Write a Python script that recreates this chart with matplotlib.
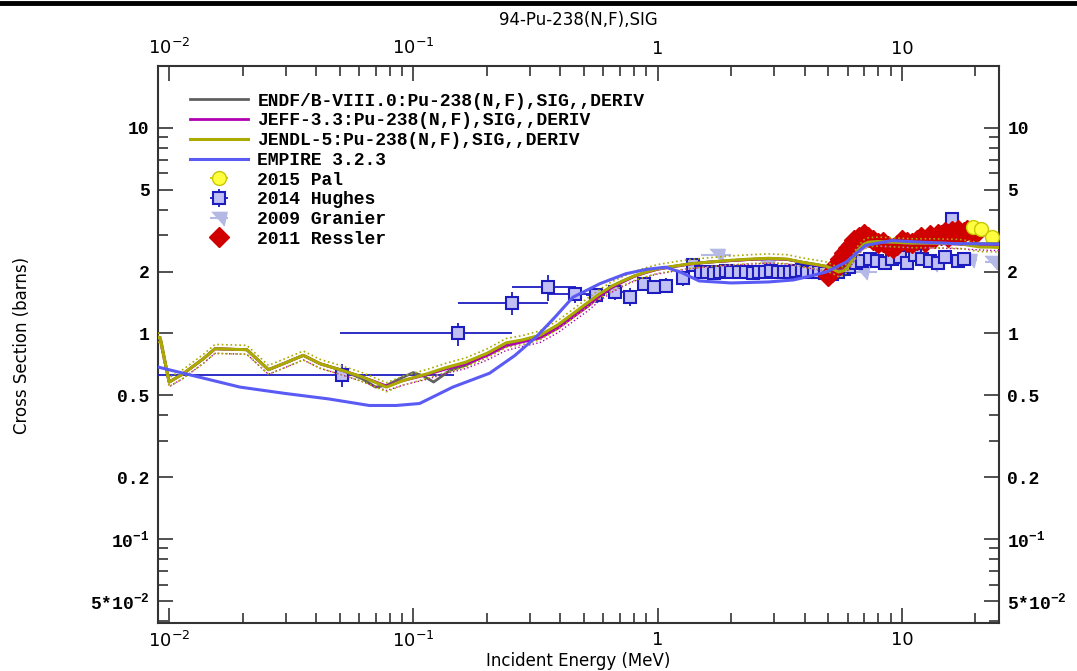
import numpy as np
import matplotlib.pyplot as plt
from matplotlib.ticker import FixedLocator, LogLocator, NullFormatter
from matplotlib.lines import Line2D

plt.rcParams['mathtext.fontset'] = 'custom'
plt.rcParams['mathtext.rm'] = 'Liberation Mono:bold'
plt.rcParams['mathtext.sf'] = 'DejaVu Sans'

# evaluated curves (MeV, barns)
jendl_e = [0.009, 0.0092, 0.0100, 0.0114, 0.0138, 0.0154, 0.0208, 0.0255, 0.0300, 0.0354,
           0.0415, 0.0513, 0.0620, 0.0776, 0.0908, 0.1138, 0.135, 0.164, 0.2, 0.24,
           0.28, 0.33, 0.39, 0.45, 0.52, 0.58, 0.65, 0.72, 0.80, 0.90,
           1.0, 1.16, 1.35, 1.6, 2.0, 2.4, 2.85, 3.4, 3.9, 4.4,
           4.9, 5.2, 5.5, 5.8, 6.0, 6.3, 6.6, 7.0, 7.3, 8.0,
           9.1, 11, 13, 15, 17.2, 19, 21, 23, 25]
jendl_s = [0.96, 0.94, 0.58, 0.636, 0.753, 0.842, 0.833, 0.666, 0.72, 0.782,
           0.712, 0.660, 0.613, 0.548, 0.59, 0.636, 0.68, 0.725, 0.80, 0.90,
           0.93, 0.98, 1.10, 1.247, 1.42, 1.56, 1.70, 1.80, 1.90, 1.99,
           2.06, 2.12, 2.18, 2.22, 2.27, 2.30, 2.32, 2.30, 2.22, 2.17,
           2.12, 2.06, 1.99, 2.02, 2.10, 2.30, 2.53, 2.72, 2.78, 2.80,
           2.78, 2.75, 2.75, 2.74, 2.73, 2.68, 2.63, 2.63, 2.62]
jendl_unc = 0.05

endf_e = [0.009, 0.0092, 0.0100, 0.0114, 0.0138, 0.0154, 0.0208, 0.0255, 0.0300, 0.0354,
          0.0415, 0.0513, 0.062, 0.070, 0.078, 0.09, 0.100, 0.11, 0.121, 0.141,
          0.164, 0.2, 0.24, 0.28, 0.33, 0.39, 0.45, 0.52, 0.58, 0.65,
          0.72, 0.80, 0.90, 1.0, 1.16, 1.35, 1.6, 2.0, 2.4, 2.85,
          3.4, 3.9, 4.4, 4.9, 5.2, 5.5, 5.8, 6.0, 6.3, 6.6,
          7.0, 7.3, 8.0, 9.1, 11, 13, 15, 17.2, 19, 21, 23, 25]
endf_s = [0.96, 0.94, 0.58, 0.636, 0.753, 0.842, 0.833, 0.666, 0.72, 0.782,
          0.712, 0.660, 0.60, 0.548, 0.56, 0.61, 0.645, 0.62, 0.58, 0.66,
          0.70, 0.79, 0.88, 0.92, 0.97, 1.08, 1.22, 1.40, 1.55, 1.69,
          1.80, 1.90, 1.99, 2.06, 2.12, 2.18, 2.22, 2.26, 2.29, 2.31,
          2.29, 2.22, 2.17, 2.12, 2.08, 2.02, 2.05, 2.15, 2.35, 2.56,
          2.72, 2.76, 2.78, 2.77, 2.75, 2.75, 2.74, 2.73, 2.73, 2.73, 2.73, 2.73]

jeff_e = [0.009, 0.0092, 0.0100, 0.0114, 0.0138, 0.0154, 0.0208, 0.0255, 0.0300, 0.0354,
          0.0415, 0.0513, 0.0620, 0.0776, 0.0908, 0.1138, 0.135, 0.164, 0.2, 0.24,
          0.28, 0.33, 0.39, 0.45, 0.52, 0.58, 0.65, 0.72, 0.80, 0.90,
          1.0, 1.16, 1.35, 1.6, 2.0, 2.4, 2.85, 3.4, 3.9, 4.4,
          4.9, 5.2, 5.5, 5.8, 6.0, 6.3, 6.6, 7.0, 7.3, 8.0,
          9.1, 11, 13, 15, 17.2, 19, 21, 23, 25]
jeff_s = [0.96, 0.94, 0.58, 0.636, 0.753, 0.842, 0.833, 0.666, 0.72, 0.782,
          0.712, 0.660, 0.613, 0.555, 0.59, 0.63, 0.67, 0.71, 0.78, 0.87,
          0.91, 0.95, 1.06, 1.20, 1.36, 1.52, 1.67, 1.78, 1.89, 1.98,
          2.05, 2.11, 2.17, 2.22, 2.26, 2.29, 2.31, 2.29, 2.22, 2.16,
          2.11, 2.07, 2.01, 2.03, 2.12, 2.32, 2.55, 2.72, 2.77, 2.79,
          2.77, 2.75, 2.74, 2.73, 2.72, 2.70, 2.68, 2.67, 2.66]

empire_e = [0.009, 0.0195, 0.030, 0.045, 0.066, 0.085, 0.106, 0.145, 0.205, 0.26,
            0.318, 0.38, 0.45, 0.58, 0.74, 0.9, 1.08, 1.25, 1.48, 2.0,
            2.85, 3.6, 4.2, 4.9, 5.9, 7.1, 9.1, 12, 17.2, 20.7, 25]
empire_s = [0.686, 0.548, 0.51, 0.48, 0.446, 0.446, 0.456, 0.548, 0.64, 0.78,
            0.96, 1.20, 1.50, 1.745, 1.95, 2.05, 2.10, 1.98, 1.80, 1.76,
            1.78, 1.82, 1.90, 1.99, 2.22, 2.68, 2.83, 2.78, 2.73, 2.73, 2.72]

# experimental data
pal_e = [19.5, 21.0, 23.5]
pal_s = [3.30, 3.22, 2.95]

hughes_e = [0.051, 0.152, 0.254, 0.356, 0.46, 0.56, 0.67, 0.77, 0.88, 0.97,
            1.08, 1.27, 1.39, 1.5, 1.6, 1.7, 1.8, 1.9, 2.0, 2.15,
            2.3, 2.45, 2.6, 2.75, 2.9, 3.1, 3.3, 3.5, 3.7, 3.9,
            4.1, 4.35, 4.6, 4.85, 5.2, 5.5, 5.8, 6.1, 6.5, 6.9,
            7.4, 7.9, 8.5, 9.1, 9.8, 10.5, 11.3, 12.1, 13.0, 14.0,
            15.0, 16.0, 17.0, 18.0]
hughes_s = [0.63, 1.00, 1.41, 1.68, 1.56, 1.54, 1.59, 1.51, 1.74, 1.68,
            1.71, 1.85, 2.14, 1.98, 2.00, 1.97, 1.99, 2.01, 1.98, 2.00,
            1.99, 1.97, 2.00, 1.98, 2.02, 1.99, 2.00, 1.98, 2.01, 2.03,
            1.99, 2.02, 2.00, 1.97, 1.95, 2.00, 2.05, 2.10, 2.20, 2.25,
            2.30, 2.25, 2.20, 2.30, 2.35, 2.20, 2.40, 2.30, 2.25, 2.20,
            2.35, 3.60, 2.25, 2.30]
hughes_dy = [0.08, 0.13, 0.18, 0.24, 0.15, 0.13, 0.14, 0.15, 0.14, 0.13,
             0.14, 0.15, 0.15, 0.08, 0.08, 0.08, 0.08, 0.08, 0.08, 0.08,
             0.08, 0.08, 0.08, 0.08, 0.08, 0.08, 0.08, 0.08, 0.08, 0.08,
             0.08, 0.08, 0.08, 0.08, 0.10, 0.10, 0.10, 0.10, 0.12, 0.12,
             0.12, 0.12, 0.12, 0.12, 0.12, 0.12, 0.12, 0.12, 0.12, 0.12,
             0.12, 0.15, 0.12, 0.12]
hughes_xlo = [0.042, 0.102, 0.102, 0.102, 0.10, 0.05, 0.05, 0.05, 0.05, 0.05,
              0.05, 0.06, 0.06, 0.05, 0.05, 0.05, 0.05, 0.05, 0.05, 0.06,
              0.06, 0.06, 0.06, 0.06, 0.07, 0.07, 0.07, 0.08, 0.08, 0.08,
              0.08, 0.09, 0.09, 0.09, 0.1, 0.1, 0.1, 0.1, 0.15, 0.15,
              0.15, 0.15, 0.2, 0.2, 0.2, 0.2, 0.25, 0.25, 0.25, 0.3,
              0.3, 0.3, 0.3, 0.3]
hughes_xhi = [0.096, 0.101, 0.102, 0.104, 0.09, 0.05, 0.05, 0.05, 0.05, 0.05,
              0.05, 0.06, 0.06, 0.05, 0.05, 0.05, 0.05, 0.05, 0.05, 0.06,
              0.06, 0.06, 0.06, 0.06, 0.07, 0.07, 0.07, 0.08, 0.08, 0.08,
              0.08, 0.09, 0.09, 0.09, 0.1, 0.1, 0.1, 0.1, 0.15, 0.15,
              0.15, 0.15, 0.2, 0.2, 0.2, 0.2, 0.25, 0.25, 0.25, 0.3,
              0.3, 0.3, 0.3, 0.3]

granier_e = [1.75, 2.8, 6.9, 9.6, 13.3, 18.8, 23.5]
granier_s = [2.42, 2.12, 1.98, 2.31, 2.18, 2.27, 2.22]
granier_dx = [0.25, 0.3, 1.0, 1.0, 1.2, 1.5, 1.5]

ressler_e = [5.0, 5.2, 5.4, 5.6, 5.8, 6.0, 6.2, 6.4, 6.7, 7.0,
             7.3, 7.6, 8.0, 8.4, 8.8, 9.2, 9.6, 10.0, 10.5, 11.0,
             11.5, 12.0, 12.5, 13.0, 13.5, 14.0, 14.5, 15.0, 15.5, 16.0,
             16.5, 17.0, 17.5, 18.0, 18.5, 19.0, 19.5, 20.0]
ressler_s = [1.90, 2.00, 2.15, 2.30, 2.45, 2.60, 2.70, 2.85, 2.95, 3.05,
             2.95, 2.85, 2.75, 2.80, 2.65, 2.60, 2.70, 2.85, 2.80, 2.75,
             2.85, 2.95, 2.80, 3.00, 2.90, 3.05, 3.00, 3.10, 2.95, 3.15,
             3.05, 3.20, 3.00, 3.10, 3.20, 3.15, 3.10, 3.05]

ytick_vals = [0.05, 0.1, 0.2, 0.5, 1, 2, 5, 10]
ytick_labels = [r'$\mathrm{5{*}10^{-2}}$', r'$\mathrm{10^{-1}}$', '0.2', '0.5', '1', '2', '5', '10']
xtick_vals = [0.01, 0.1, 1, 10]
xtick_labels = [r'$\mathsf{10^{-2}}$', r'$\mathsf{10^{-1}}$', '1', '10']

W, H = 1077, 671
mono = ['Liberation Mono', 'DejaVu Sans Mono']
sans = ['DejaVu Sans']

fig = plt.figure(figsize=(W / 100, H / 100), dpi=100)
ax = fig.add_axes([158 / W, 1 - 623 / H, (999 - 158) / W, (623 - 66) / H])
ax.set_xscale('log')
ax.set_yscale('log')

c_endf = '#606060'
c_jeff = '#b000b0'
c_jendl = '#aaaa00'
c_emp = '#5a5af5'
c_gr = '#b4b8e4'

# data
hg = ax.errorbar(hughes_e, hughes_s, yerr=hughes_dy, xerr=[hughes_xlo, hughes_xhi],
                 fmt='s', ms=9, mfc='#c0c0f4', mec='#1c1cc0', mew=1.5,
                 ecolor='#1c1cc0', elinewidth=1.3, capsize=0, zorder=3)
gr_marker = [(-1, 0.8), (1, 0.8), (0.6, -1)]
gr = ax.errorbar(granier_e, granier_s, xerr=granier_dx, fmt='', ls='none',
                 marker=gr_marker, ms=11, mfc=c_gr, mec=c_gr,
                 ecolor=c_gr, elinewidth=1.5, capsize=0, zorder=2)
rs, = ax.plot(ressler_e, ressler_s, ls='none', marker='D', ms=10.5,
              mfc='#d00000', mec='#d00000', zorder=4)
pl = ax.errorbar(pal_e, pal_s, xerr=[0.3, 0.3, 0.3], fmt='o', ms=10,
                 mfc='#ffff40', mec='#c8c800', ecolor='#c8c800', elinewidth=1.3,
                 capsize=0, zorder=4)

# evaluations
l1, = ax.plot(endf_e, endf_s, color=c_endf, lw=2, zorder=5)
l2, = ax.plot(jeff_e, jeff_s, color=c_jeff, lw=2, zorder=5)
ax.plot(jeff_e, np.array(jeff_s) * 0.95, color=c_jeff, lw=1, ls=':', zorder=5)
l3, = ax.plot(jendl_e, jendl_s, color=c_jendl, lw=2.2, zorder=6)
ax.plot(jendl_e, np.array(jendl_s) * (1 + jendl_unc), color=c_jendl, lw=1.2, ls=':', zorder=6)
ax.plot(jendl_e, np.array(jendl_s) * (1 - jendl_unc), color=c_jendl, lw=1.2, ls=':', zorder=6)
l4, = ax.plot(empire_e, empire_s, color=c_emp, lw=2.2, zorder=6)

ax.set_xlim(0.009, 25)
ax.set_ylim(0.039, 20)

# ticks
ax.xaxis.set_major_locator(FixedLocator(xtick_vals))
ax.set_xticklabels(xtick_labels)
ax.xaxis.set_minor_locator(LogLocator(base=10, subs=np.arange(2, 10)))
ax.xaxis.set_minor_formatter(NullFormatter())
ax.yaxis.set_major_locator(FixedLocator(ytick_vals))
ax.set_yticklabels(ytick_labels)
ax.yaxis.set_minor_locator(FixedLocator([0.04, 0.06, 0.07, 0.08, 0.09, 0.3, 0.4, 3, 4,
                                         6, 7, 8, 9, 20]))
ax.yaxis.set_minor_formatter(NullFormatter())
ax.tick_params(which='both', direction='in', top=True, right=True,
               labeltop=True, labelright=True, width=1.2, color='#333333')
ax.tick_params(which='major', length=11, pad=6)
ax.tick_params(which='minor', length=7)
for t in ax.get_xticklabels():
    t.set_family(sans)
    t.set_fontsize(13)
for t in ax.get_yticklabels():
    t.set_family(mono)
    t.set_fontsize(13)
    t.set_fontweight('bold')
for sp in ax.spines.values():
    sp.set_linewidth(1.5)
    sp.set_color('#333333')

# legend
handles = [l1, l2, l3, l4, pl, hg, gr, rs]
labels = ['ENDF/B-VIII.0:Pu-238(N,F),SIG,,DERIV', 'JEFF-3.3:Pu-238(N,F),SIG,,DERIV',
          'JENDL-5:Pu-238(N,F),SIG,,DERIV', 'EMPIRE 3.2.3',
          '2015 Pal', '2014 Hughes', '2009 Granier', '2011 Ressler']
leg = ax.legend(handles, labels, loc='upper left', bbox_to_anchor=(0.03, 0.965),
                frameon=False, handlelength=3.2, handletextpad=0.5, labelspacing=0.15,
                borderaxespad=0, prop={'family': mono, 'weight': 'bold', 'size': 13})

# text
fig.text(578 / W, 1 - 20 / H, '94-Pu-238(N,F),SIG', ha='center', va='center',
         family=sans, fontsize=12)
fig.text(578 / W, 1 - 661 / H, 'Incident Energy (MeV)', ha='center', va='center',
         family=sans, fontsize=12)
fig.text(22 / W, 1 - 345 / H, 'Cross Section (barns)', ha='center', va='center',
         rotation=90, family=sans, fontsize=12)
fig.add_artist(Line2D([0, 1], [1 - 3 / H, 1 - 3 / H], color='black', lw=3.5,
                      transform=fig.transFigure))

fig.savefig('out.png', dpi=100)
